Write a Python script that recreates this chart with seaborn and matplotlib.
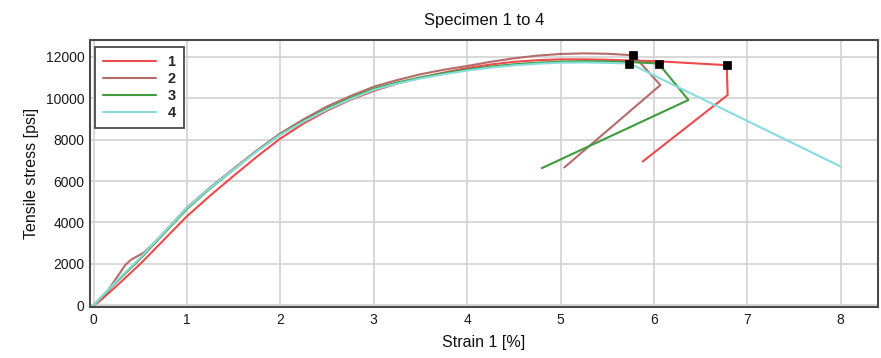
import matplotlib
matplotlib.use("Agg")
import matplotlib.pyplot as plt
import seaborn as sns
import pandas as pd

# Stress-strain data (strain in %, stress in psi)
strain_1 = [0, 0.05, 0.09, 0.25, 0.5, 0.75, 1, 1.25, 1.5, 1.75, 2, 2.25, 2.5, 2.75, 3, 3.25, 3.5,
            3.75, 4, 4.25, 4.5, 4.75, 5, 5.25, 5.5, 6.04, 6.78, 6.79, 5.88]
stress_1 = [0, 150, 300, 950, 2000, 3150, 4300, 5300, 6250, 7180, 8050, 8780, 9400, 9920, 10350, 10700,
            10980, 11230, 11450, 11620, 11750, 11830, 11870, 11870, 11850, 11780, 11590, 10150, 6940]

strain_2 = [0, 0.15, 0.28, 0.34, 0.40, 0.46, 0.54, 0.64, 0.75, 1, 1.25, 1.5, 1.75, 2, 2.25, 2.5, 2.75, 3,
            3.25, 3.5, 3.75, 4, 4.25, 4.5, 4.75, 5, 5.25, 5.5, 5.78, 6.07, 5.04]
stress_2 = [0, 700, 1550, 1950, 2200, 2350, 2550, 2980, 3500, 4720, 5700, 6600, 7480, 8300, 8980, 9600,
            10100, 10550, 10870, 11150, 11370, 11550, 11750, 11920, 12050, 12130, 12160, 12140, 12070,
            10630, 6650]

strain_3 = [0, 0.25, 0.5, 0.75, 1, 1.25, 1.5, 1.75, 2, 2.25, 2.5, 2.75, 3, 3.25, 3.5, 3.75, 4, 4.25,
            4.5, 4.75, 5, 5.25, 5.5, 5.75, 6.05, 6.37, 4.80]
stress_3 = [0, 1150, 2250, 3450, 4650, 5650, 6550, 7450, 8250, 8900, 9500, 10000, 10450, 10750, 11000,
            11200, 11380, 11520, 11630, 11710, 11760, 11780, 11770, 11740, 11670, 9910, 6620]

strain_4 = [0, 0.25, 0.5, 0.75, 1, 1.25, 1.5, 1.75, 2, 2.25, 2.5, 2.75, 3, 3.25, 3.5, 3.75, 4, 4.25,
            4.5, 4.75, 5, 5.25, 5.5, 5.73, 5.79, 8.0]
stress_4 = [0, 1200, 2300, 3500, 4700, 5680, 6560, 7440, 8230, 8870, 9450, 9950, 10400, 10700, 10950,
            11150, 11330, 11470, 11580, 11660, 11710, 11720, 11700, 11670, 11560, 6700]

specimens = ["1", "2", "3", "4"]
colors = ["#ec4a4c", "#b66a6a", "#3e9c3e", "#86dcdc"]

# break points marked with black squares
break_strain = [6.78, 5.78, 6.05, 5.73]
break_stress = [11590, 12070, 11670, 11670]

rows = []
for name, xs, ys in zip(specimens, [strain_1, strain_2, strain_3, strain_4],
                        [stress_1, stress_2, stress_3, stress_4]):
    for x, y in zip(xs, ys):
        rows.append({"specimen": name, "strain": x, "stress": y})
dataframe = pd.DataFrame(rows)
breaks = pd.DataFrame({"strain": break_strain, "stress": break_stress})

sns.set_style("white")
plt.rcParams['font.family'] = ['Liberation Sans', 'DejaVu Sans']

f = plt.figure(figsize=(8.81, 3.58), dpi=100)
ax = f.add_axes([0.102, 0.1425, 0.8946, 0.7455])

sns.lineplot(data=dataframe, x="strain", y="stress", hue="specimen", palette=colors,
             sort=False, estimator=None, linewidth=1.5, ax=ax)
sns.scatterplot(data=breaks, x="strain", y="stress", marker="s", color="black",
                s=40, edgecolor="black", zorder=5, ax=ax)

ax.set_xlim(-0.04, 8.4)
ax.set_ylim(-80, 12800)
ax.set_xticks(range(0, 9))
ax.set_yticks(range(0, 12001, 2000))
ax.grid(True, color="#d2d2d2", linewidth=1.2)
ax.set_axisbelow(True)
for spine in ax.spines.values():
    spine.set_color("#4a4a4a")
    spine.set_linewidth(1.5)
ax.tick_params(axis="both", length=0, labelsize=10, colors="#1a1a1a", pad=4)

ax.set_title("Specimen 1 to 4", fontsize=12, pad=11, color="#111111")
ax.set_xlabel("Strain 1 [%]", fontsize=11.5, color="#111111", labelpad=6)
ax.set_ylabel("Tensile stress [psi]", fontsize=11.5, color="#111111", labelpad=5)

handles, labels = ax.get_legend_handles_labels()
leg = ax.legend(handles[:4], labels[:4], loc="upper left", bbox_to_anchor=(0.007, 0.974),
                fancybox=False, framealpha=1, edgecolor="#4a4a4a", handlelength=3.6,
                labelspacing=0.2, borderpad=0.55, handletextpad=0.8, borderaxespad=0,
                prop={"weight": "bold", "size": 10.5})
leg.get_frame().set_linewidth(1.3)

plt.savefig("out.png", dpi=100)
